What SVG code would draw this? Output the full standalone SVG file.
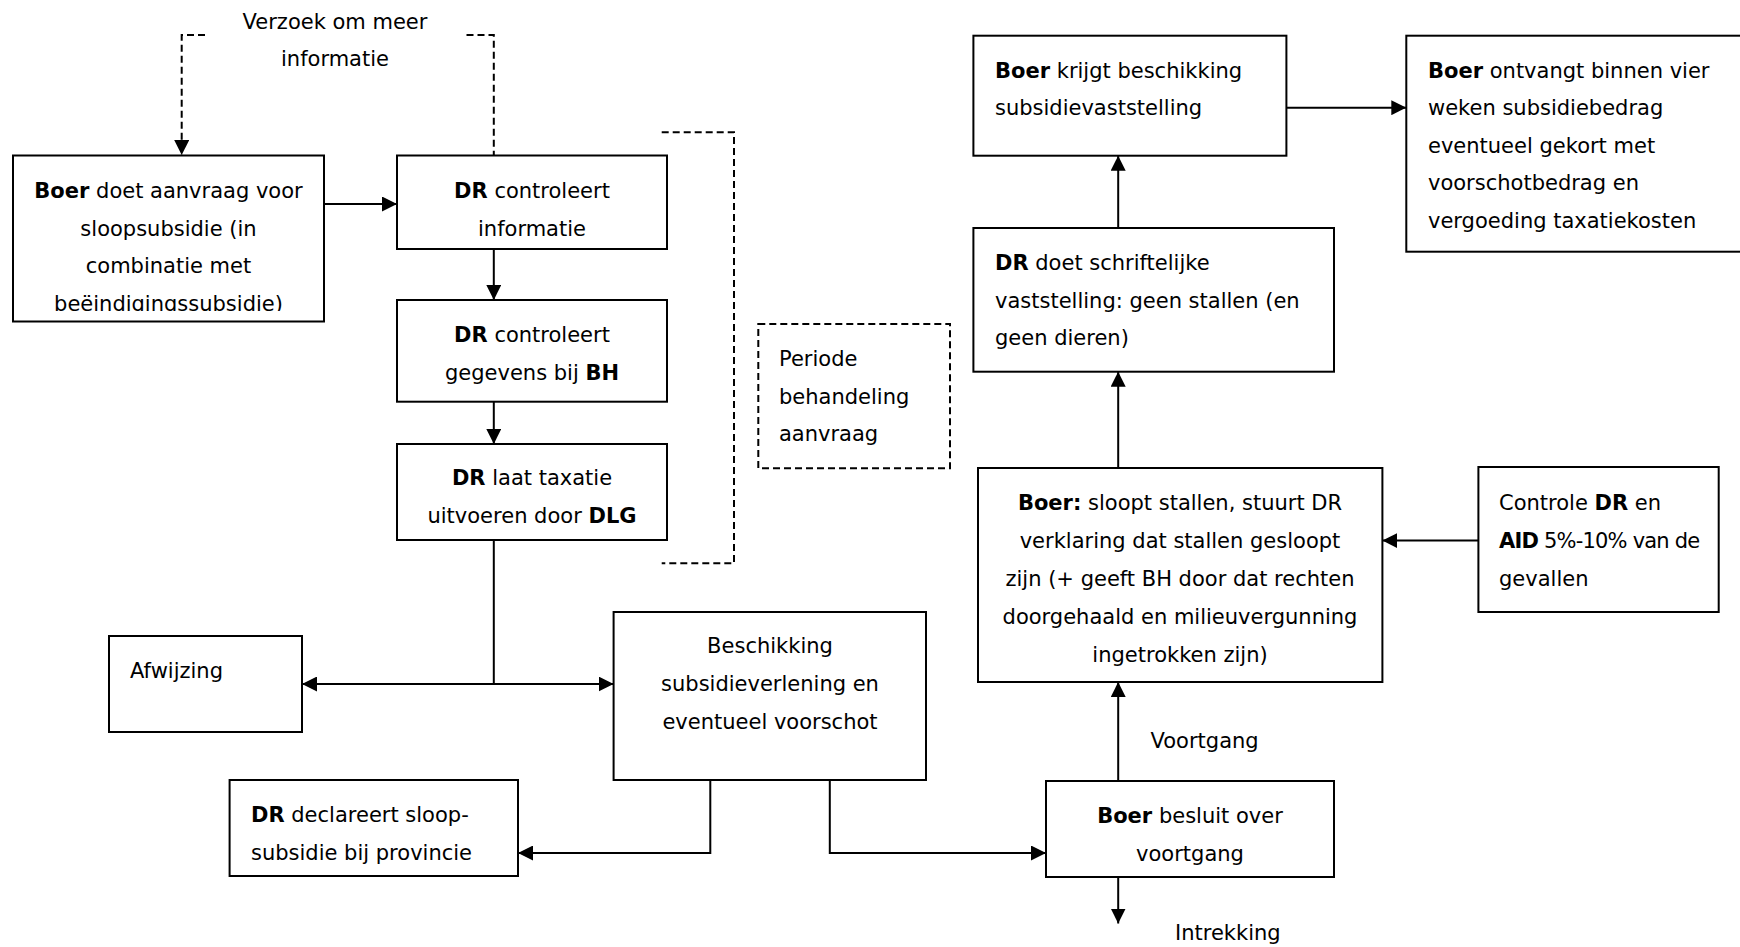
<svg xmlns="http://www.w3.org/2000/svg" width="1740" height="947" viewBox="0 0 1740 947">
<style>
.box{fill:#fff;stroke:#000;stroke-width:2}
.dbox{fill:#fff;stroke:#000;stroke-width:2;stroke-dasharray:7 4}
.t{font-family:"DejaVu Sans",Verdana,sans-serif;font-size:21px;fill:#000}
.c{text-anchor:middle}
.b{font-weight:bold}
.ln{fill:none;stroke:#000;stroke-width:2}
.dl{fill:none;stroke:#000;stroke-width:2;stroke-dasharray:7 4}
</style>
<defs>
<marker id="ah" viewBox="0 0 15 15" refX="15" refY="7.5" markerWidth="15" markerHeight="15" markerUnits="userSpaceOnUse" orient="auto-start-reverse"><path d="M0,0 L15,7.5 L0,15 z" fill="#000"/></marker>
<clipPath id="clipBoer"><rect x="13" y="155" width="311" height="156"/></clipPath>
</defs>
<rect width="1740" height="947" fill="#fff"/>

<g id="connectors">
<path class="ln" d="M324,204 H397" marker-end="url(#ah)"/>
<path class="dl" d="M205,35 H181.7 V155" marker-end="url(#ah)"/>
<path class="dl" d="M466.5,35 H493.8 V155.5"/>
<path class="ln" d="M493.8,249 V300" marker-end="url(#ah)"/>
<path class="ln" d="M493.8,401.7 V444" marker-end="url(#ah)"/>
<path class="ln" d="M493.8,540 V684"/>
<path class="ln" d="M302,684 H613.6" marker-start="url(#ah)" marker-end="url(#ah)"/>
<path class="ln" d="M710.3,780 V853 H518" marker-end="url(#ah)"/>
<path class="ln" d="M829.8,780 V853 H1046" marker-end="url(#ah)"/>
<path class="ln" d="M1118.2,781 V682" marker-end="url(#ah)"/>
<path class="ln" d="M1118.2,877 V923.5" marker-end="url(#ah)"/>
<path class="ln" d="M1478.4,540.6 H1382.4" marker-end="url(#ah)"/>
<path class="ln" d="M1118.2,468 V371.7" marker-end="url(#ah)"/>
<path class="ln" d="M1118.2,228 V155.7" marker-end="url(#ah)"/>
<path class="ln" d="M1286.4,107.7 H1406.3" marker-end="url(#ah)"/>
<path class="dl" d="M661.7,132.3 H734 V563.3 H661.7"/>
<text class="t c" x="335" y="29">Verzoek om meer</text>
<text class="t c" x="335" y="66">informatie</text>
<text class="t" x="1150.5" y="748">Voortgang</text>
<text class="t" x="1175" y="940">Intrekking</text>
</g>

<g id="boer-aanvraag">
<rect class="box" x="13" y="155.5" width="311" height="166"/>
<text class="t c" x="168.5" y="198" clip-path="url(#clipBoer)"><tspan class="b">Boer</tspan> doet aanvraag voor</text>
<text class="t c" x="168.5" y="235.5" clip-path="url(#clipBoer)">sloopsubsidie (in</text>
<text class="t c" x="168.5" y="273" clip-path="url(#clipBoer)">combinatie met</text>
<text class="t c" x="168.5" y="310.5" clip-path="url(#clipBoer)">beëindigingssubsidie)</text>
</g>

<g id="dr-info">
<rect class="box" x="397" y="155.5" width="270" height="93.5"/>
<text class="t c" x="532" y="198"><tspan class="b">DR</tspan> controleert</text>
<text class="t c" x="532" y="235.5">informatie</text>
</g>

<g id="dr-bh">
<rect class="box" x="397" y="300" width="270" height="101.7"/>
<text class="t c" x="532" y="342"><tspan class="b">DR</tspan> controleert</text>
<text class="t c" x="532" y="380">gegevens bij <tspan class="b">BH</tspan></text>
</g>

<g id="dr-taxatie">
<rect class="box" x="397" y="444" width="270" height="96"/>
<text class="t c" x="532" y="485"><tspan class="b">DR</tspan> laat taxatie</text>
<text class="t c" x="532" y="523">uitvoeren door <tspan class="b">DLG</tspan></text>
</g>

<g id="periode">
<rect class="dbox" x="758.3" y="324" width="191.7" height="144.3"/>
<text class="t" x="779" y="366">Periode</text>
<text class="t" x="779" y="403.5">behandeling</text>
<text class="t" x="779" y="441">aanvraag</text>
</g>

<g id="afwijzing">
<rect class="box" x="109" y="636" width="193" height="96"/>
<text class="t" x="130" y="678">Afwijzing</text>
</g>

<g id="beschikking">
<rect class="box" x="613.6" y="612" width="312.4" height="168"/>
<text class="t c" x="770" y="653">Beschikking</text>
<text class="t c" x="770" y="691">subsidieverlening en</text>
<text class="t c" x="770" y="729">eventueel voorschot</text>
</g>

<g id="dr-declareert">
<rect class="box" x="229.6" y="780" width="288.4" height="96"/>
<text class="t" x="251" y="822"><tspan class="b">DR</tspan> declareert sloop-</text>
<text class="t" x="251" y="859.5">subsidie bij provincie</text>
</g>

<g id="boer-besluit">
<rect class="box" x="1046" y="781" width="288" height="96"/>
<text class="t c" x="1190" y="823"><tspan class="b">Boer</tspan> besluit over</text>
<text class="t c" x="1190" y="861">voortgang</text>
</g>

<g id="boer-sloopt">
<rect class="box" x="978" y="468" width="404.4" height="214"/>
<text class="t c" x="1180" y="510"><tspan class="b">Boer:</tspan> sloopt stallen, stuurt DR</text>
<text class="t c" x="1180" y="548">verklaring dat stallen gesloopt</text>
<text class="t c" x="1180" y="586">zijn (+ geeft BH door dat rechten</text>
<text class="t c" x="1180" y="624">doorgehaald en milieuvergunning</text>
<text class="t c" x="1180" y="661.5">ingetrokken zijn)</text>
</g>

<g id="controle">
<rect class="box" x="1478.4" y="467" width="240.3" height="145"/>
<text class="t" x="1499" y="510">Controle <tspan class="b">DR</tspan> en</text>
<text class="t" x="1499" y="548" letter-spacing="-0.8"><tspan class="b">AID</tspan> 5%-10% van de</text>
<text class="t" x="1499" y="586">gevallen</text>
</g>

<g id="dr-schriftelijk">
<rect class="box" x="973.4" y="228" width="360.6" height="143.7"/>
<text class="t" x="995" y="270"><tspan class="b">DR</tspan> doet schriftelijke</text>
<text class="t" x="995" y="307.5">vaststelling: geen stallen (en</text>
<text class="t" x="995" y="345">geen dieren)</text>
</g>

<g id="boer-krijgt">
<rect class="box" x="973.4" y="35.7" width="313" height="120"/>
<text class="t" x="995" y="78"><tspan class="b">Boer</tspan> krijgt beschikking</text>
<text class="t" x="995" y="115">subsidievaststelling</text>
</g>

<g id="boer-ontvangt">
<rect class="box" x="1406.3" y="35.7" width="345" height="216"/>
<text class="t" x="1428" y="78"><tspan class="b">Boer</tspan> ontvangt binnen vier</text>
<text class="t" x="1428" y="115">weken subsidiebedrag</text>
<text class="t" x="1428" y="152.5">eventueel gekort met</text>
<text class="t" x="1428" y="190">voorschotbedrag en</text>
<text class="t" x="1428" y="227.5">vergoeding taxatiekosten</text>
</g>
</svg>
